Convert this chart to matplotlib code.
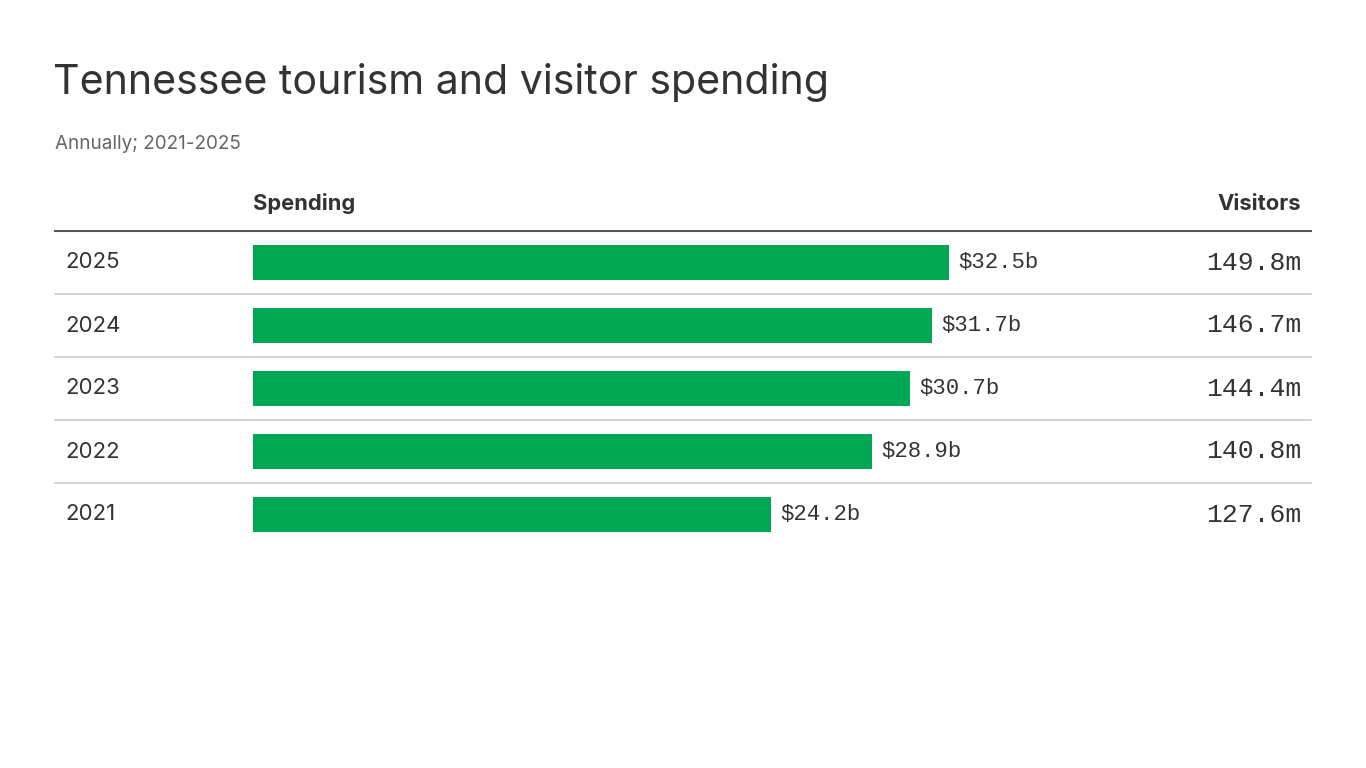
import matplotlib.pyplot as plt
from matplotlib.transforms import blended_transform_factory

# chart data
years = ["2025", "2024", "2023", "2022", "2021"]
spending = [32.5, 31.7, 30.7, 28.9, 24.2]       # billions of dollars
visitors = [149.8, 146.7, 144.4, 140.8, 127.6]  # millions

GREEN = "#00a855"
DARK = "#333333"
SANS = "Inter"
MONO = "Liberation Mono"

W, H = 1366, 768
fig = plt.figure(figsize=(W / 100, H / 100), dpi=100)
fig.patch.set_facecolor("white")

def fx(px):
    return px / W

def fy(py):
    return 1 - py / H

# bar area: from x=253 to the right edge of the table, y from header line to last row
ax = fig.add_axes([fx(253), fy(546), fx(1311 - 253), (546 - 231) / H])
ax.set_xlim(0, (1311 - 253) / 21.415)
ax.set_ylim(len(years) - 0.5, -0.5)
ax.axis("off")

ypos = list(range(len(years)))
ax.barh(ypos, spending, height=0.54, color=GREEN)

for y, v in zip(ypos, spending):
    ax.annotate(f"${v}b", (v, y), xytext=(9, 0), textcoords="offset pixels",
                va="center", ha="left", fontsize=16, family=MONO, color=DARK)

tr = blended_transform_factory(fig.transFigure, ax.transData)
for y, yr, vis in zip(ypos, years, visitors):
    ax.text(fx(65), y, yr, transform=tr, va="center", ha="left",
            fontsize=16, family=SANS, color=DARK)
    ax.text(fx(1301), y, f"{vis}m", transform=tr, va="center", ha="right",
            fontsize=19, family=MONO, color=DARK)

# row separators
for y in ypos[:-1]:
    ax.plot([fx(55), fx(1311)], [y + 0.5, y + 0.5], transform=tr,
            color="#cccccc", lw=1.2, clip_on=False)
ax.plot([fx(55), fx(1311)], [-0.5, -0.5], transform=tr,
        color="#555555", lw=1.5, clip_on=False)

# header
fig.text(fx(253), fy(204), "Spending", va="center", ha="left",
         fontsize=15.8, fontweight="bold", family=SANS, color=DARK)
fig.text(fx(1301), fy(204), "Visitors", va="center", ha="right",
         fontsize=15.8, fontweight="bold", family=SANS, color=DARK)

# titles
fig.text(fx(53), fy(82), "Tennessee tourism and visitor spending", va="center",
         ha="left", fontsize=29.6, family=SANS, color=DARK)
fig.text(fx(55), fy(144), "Annually; 2021-2025", va="center", ha="left",
         fontsize=13.6, family=SANS, color="#666666")

fig.savefig("out.png", dpi=100, facecolor="white")
